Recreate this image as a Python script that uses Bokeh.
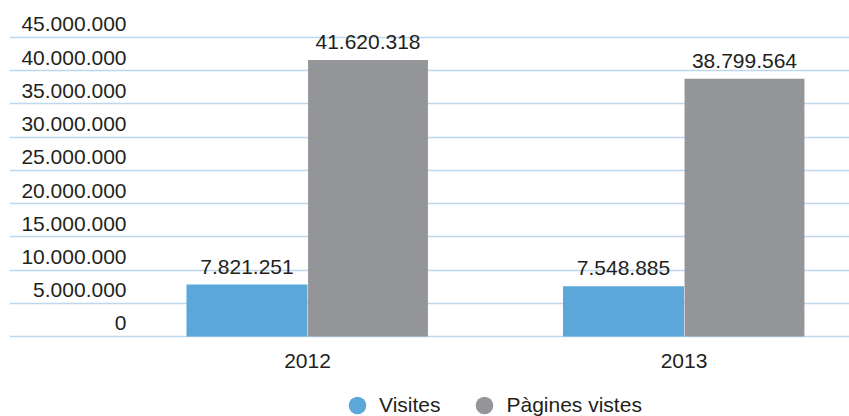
from bokeh.plotting import figure
from bokeh.models import (ColumnDataSource, Range1d, FixedTicker, Legend, LegendItem)
from bokeh.core.properties import value
from bokeh.embed import file_html
from bokeh.resources import INLINE

# ---- data ----
years = ["2012", "2013"]
visites = [7821251, 7548885]
pagines = [41620318, 38799564]
series_names = ["Visites", "Pàgines vistes"]
y_ticks = [0, 5000000, 10000000, 15000000, 20000000, 25000000, 30000000, 35000000, 40000000, 45000000]


def fmt(v):
    return f"{v:,}".replace(",", ".")


FONT = "Liberation Sans"
TXT = "#231f20"
BLUE = "#5ba7da"
GRAY = "#949599"
GRID = "#bdd7ee"

x_start, x_end = -0.7915, 1.4396
y_start, y_end = -12.04e6, 49.21e6

p = figure(width=849, height=416, output_backend="svg", toolbar_location=None,
           x_range=Range1d(x_start, x_end), y_range=Range1d(y_start, y_end),
           x_axis_location=None, y_axis_location=None,
           min_border_left=9, min_border_right=0, min_border_top=9, min_border_bottom=0)
p.outline_line_color = None
p.background_fill_color = "white"
p.border_fill_color = "white"

idx = list(range(len(years)))
bw = 0.3214
src = ColumnDataSource(dict(
    x=idx,
    xb=[i - bw / 2 for i in idx],
    xg=[i + bw / 2 for i in idx],
    zero=[0] * len(idx),
    years=years,
    vis=visites, pag=pagines,
    vis_lbl=[fmt(v) for v in visites],
    pag_lbl=[fmt(v) for v in pagines],
))

# grid (only the value ticks)
p.xgrid.visible = False
p.ygrid.ticker = FixedTicker(ticks=y_ticks)
p.ygrid.grid_line_color = GRID
p.ygrid.grid_line_width = 1.5

p.vbar(x="xb", top="vis", width=bw, bottom=0, source=src, fill_color=BLUE, line_color=None)
p.vbar(x="xg", top="pag", width=bw - 0.003, bottom=0, source=src, fill_color=GRAY, line_color=None)

# value labels
for xcol, ycol, lcol in [("xb", "vis", "vis_lbl"), ("xg", "pag", "pag_lbl")]:
    p.text(x=xcol, y=ycol, text=lcol, source=src, text_align="center", text_baseline="alphabetic",
           y_offset=-18, text_font=value(FONT), text_font_size="21px", text_color=TXT)

# category labels under the baseline
p.text(x="x", y="zero", text="years", source=src, text_align="center", text_baseline="alphabetic",
       y_offset=25, text_font=value(FONT), text_font_size="21px", text_color=TXT)

# y tick labels drawn inside the frame, above their grid lines
ysrc = ColumnDataSource(dict(x=[x_start] * len(y_ticks), y=y_ticks, t=[fmt(v) for v in y_ticks]))
p.text(x="x", y="y", text="t", source=ysrc, x_offset=117, y_offset=-13, text_align="right",
       text_baseline="alphabetic", text_font=value(FONT), text_font_size="21px", text_color=TXT)

# legend (circles); the renderers hold a single non-drawable point
nan = float("nan")
r1 = p.scatter(x=[nan], y=[nan], marker="circle", fill_color=BLUE, line_color=None)
r2 = p.scatter(x=[nan], y=[nan], marker="circle", fill_color=GRAY, line_color=None)
legend = Legend(items=[LegendItem(label=series_names[0], renderers=[r1]),
                       LegendItem(label=series_names[1], renderers=[r2])],
                orientation="horizontal", location=(326, -11),
                glyph_width=44, glyph_height=44, label_standoff=0, spacing=22,
                padding=0, margin=0, border_line_alpha=0, background_fill_alpha=0,
                label_text_font=FONT, label_text_font_size="21px", label_text_color=TXT,
                label_text_baseline="middle")
p.add_layout(legend, "center")

open("out.html", "w").write(file_html(p, INLINE))
